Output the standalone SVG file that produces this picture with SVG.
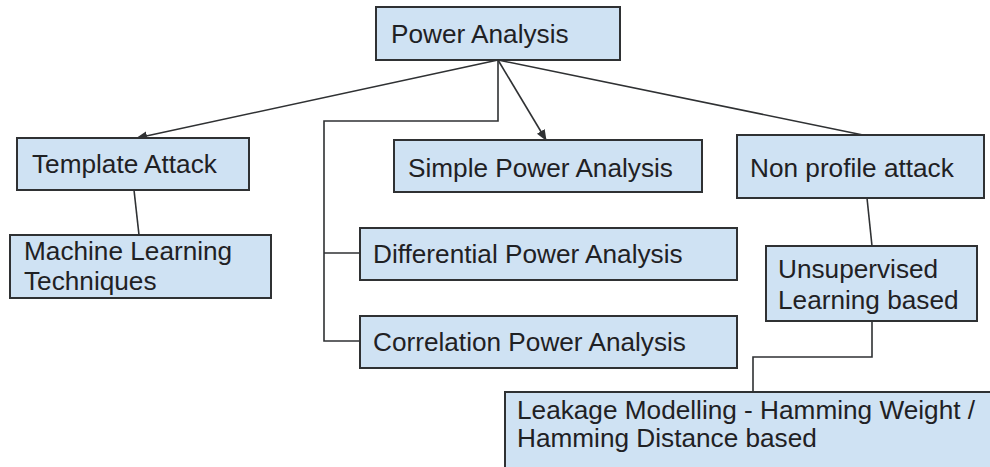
<svg xmlns="http://www.w3.org/2000/svg" width="990" height="467" viewBox="0 0 990 467">
  <style>
    .box { fill: #cfe2f3; stroke: #2f3133; stroke-width: 2; }
    .lbl { font-family: "Liberation Sans", Arial, sans-serif; font-size: 26.2px; fill: #1f2124; }
    .wire { fill: none; stroke: #2f3133; stroke-width: 1.6; }
  </style>
  <defs>
    <marker id="arrow" viewBox="0 0 10 10" refX="9" refY="5" markerWidth="7" markerHeight="7" orient="auto">
      <path d="M0,1 L10,5 L0,9 z" fill="#2f3133"/>
    </marker>
  </defs>
  <rect width="990" height="467" fill="#ffffff"/>

  <g id="connectors">
    <line class="wire" x1="498" y1="60" x2="137" y2="138" marker-end="url(#arrow)"/>
    <line class="wire" x1="498" y1="60" x2="546" y2="140" marker-end="url(#arrow)"/>
    <line class="wire" x1="498" y1="60" x2="863" y2="135"/>
    <polyline class="wire" points="498,60 498,121 324,121 324,341 360,341"/>
    <line class="wire" x1="324" y1="253" x2="360" y2="253"/>
    <line class="wire" x1="134" y1="190" x2="139" y2="235"/>
    <line class="wire" x1="867" y1="198" x2="872" y2="246"/>
    <polyline class="wire" points="872,321 872,357 753,357 753,392"/>
  </g>

  <g id="power-analysis">
    <rect class="box" x="376" y="7" width="244" height="53"/>
    <text class="lbl" x="391" y="43">Power Analysis</text>
  </g>

  <g id="template-attack">
    <rect class="box" x="17" y="138" width="232" height="52"/>
    <text class="lbl" x="32" y="173">Template Attack</text>
  </g>

  <g id="machine-learning">
    <rect class="box" x="10" y="235" width="261" height="63"/>
    <text class="lbl" x="24" y="260">Machine Learning</text>
    <text class="lbl" x="24" y="290">Techniques</text>
  </g>

  <g id="simple-power-analysis">
    <rect class="box" x="394" y="140" width="308" height="52"/>
    <text class="lbl" x="408" y="177">Simple Power Analysis</text>
  </g>

  <g id="differential-power-analysis">
    <rect class="box" x="360" y="228" width="377" height="52"/>
    <text class="lbl" x="373" y="263">Differential Power Analysis</text>
  </g>

  <g id="correlation-power-analysis">
    <rect class="box" x="360" y="316" width="377" height="52"/>
    <text class="lbl" x="373" y="351">Correlation Power Analysis</text>
  </g>

  <g id="non-profile-attack">
    <rect class="box" x="737" y="135" width="247" height="63"/>
    <text class="lbl" x="750" y="177">Non profile attack</text>
  </g>

  <g id="unsupervised">
    <rect class="box" x="766" y="246" width="211" height="75"/>
    <text class="lbl" x="778" y="278">Unsupervised</text>
    <text class="lbl" x="778" y="309">Learning based</text>
  </g>

  <g id="leakage-modelling">
    <rect class="box" x="505" y="392" width="490" height="80"/>
    <text class="lbl" x="517" y="419">Leakage Modelling - Hamming Weight /</text>
    <text class="lbl" x="517" y="447">Hamming Distance based</text>
  </g>
</svg>
